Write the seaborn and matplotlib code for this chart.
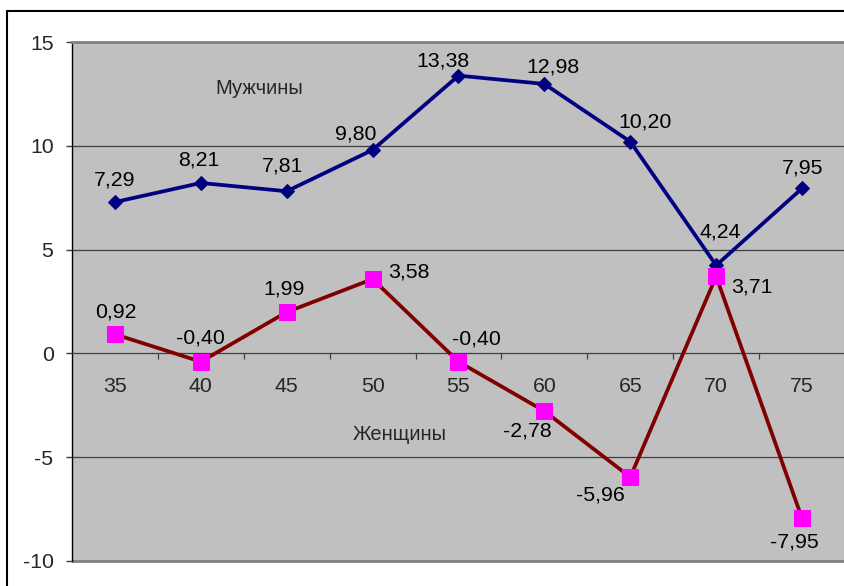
import numpy as np
import pandas as pd
import matplotlib
matplotlib.use("Agg")
import matplotlib.pyplot as plt
import seaborn as sns
from matplotlib.lines import Line2D

# Change by age group (men and women)
ages = [35, 40, 45, 50, 55, 60, 65, 70, 75]
men = [7.29, 8.21, 7.81, 9.80, 13.38, 12.98, 10.20, 4.24, 7.95]
women = [0.92, -0.40, 1.99, 3.58, -0.40, -2.78, -5.96, 3.71, -7.95]
men_label = "Мужчины"
women_label = "Женщины"
y_ticks = [-10, -5, 0, 5, 10, 15]

# value label offsets, pixels (dx, dy) from the marker to the centre of the digits
men_offsets = [(0, 24), (-2, 25), (-4, 27), (-17, 18), (-16, 17), (9, 19), (15, 22), (4, 35), (1, 22)]
women_offsets = [(1, 24), (0, 26), (-3, 25), (36, 9.5), (18, 25), (-17, -18), (-30, -16), (36, -9), (-8, -21)]

sns.set_style("white")
plt.rcParams["font.family"] = ["Liberation Sans", "DejaVu Sans"]

FS = 15.3
EM_PX = FS * 100 / 72
DIGIT_MID = 0.358 * EM_PX  # digit centre above baseline, pixels

fig = plt.figure(figsize=(8.45, 5.86), dpi=100)
ax = fig.add_axes([72 / 845, 25 / 586, 773 / 845, (561 - 42) / 586])
ax.set_facecolor("#C0C0C0")

df = pd.DataFrame({"pos": np.arange(len(ages)), "men": men, "women": women})

# horizontal gridlines
for y in y_ticks:
    if y in (10, 5, -5):
        ax.axhline(y, color="#404040", lw=0.9, zorder=1)
ax.axhline(-10, color="#808080", lw=2, zorder=1, clip_on=False)

sns.lineplot(data=df, x="pos", y="men", ax=ax, color="#000080", lw=2.7,
             marker="D", markersize=7.6, markerfacecolor="#000080",
             markeredgecolor="#000080", zorder=3)
sns.lineplot(data=df, x="pos", y="women", ax=ax, color="#800000", lw=2.7,
             marker="s", markersize=11.5, markerfacecolor="#FF00FF",
             markeredgecolor="#FF00FF", zorder=4)


def fmt(v):
    return f"{v:.2f}".replace(".", ",")


def value_labels(values, offsets):
    for i, v in enumerate(values):
        dx, dy = offsets[i]
        ax.annotate(fmt(v), (i, v), xytext=(dx, dy - DIGIT_MID),
                    textcoords="offset pixels", ha="center", va="baseline",
                    fontsize=FS, color="black", zorder=5)


value_labels(men, men_offsets)
value_labels(women, women_offsets)

ax.text(1.675, 12.48, men_label, ha="center", va="baseline", fontsize=14.5)
ax.text(3.32, -4.17, women_label, ha="center", va="baseline", fontsize=14.5)

ax.set_xlim(-0.5, len(ages) - 0.5)
ax.set_ylim(-10, 15)
ax.set_xlabel("")
ax.set_ylabel("")

# category axis runs along zero
ax.spines["bottom"].set_position(("data", 0))
ax.spines["bottom"].set_color("#404040")
ax.spines["bottom"].set_linewidth(0.9)
ax.spines["left"].set_color("black")
ax.spines["left"].set_linewidth(1.0)
ax.spines["top"].set_color("#808080")
ax.spines["top"].set_linewidth(2)
ax.spines["right"].set_color("#808080")
ax.spines["right"].set_linewidth(1.5)

ax.set_xticks(np.arange(len(ages)))
ax.set_xticklabels([str(a) for a in ages], fontsize=FS)
ax.set_xticks(np.arange(len(ages) - 1) + 0.5, minor=True)
ax.tick_params(axis="x", which="major", length=0, pad=17)
ax.tick_params(axis="x", which="minor", direction="out", length=4.3,
               width=0.9, color="#404040", bottom=True)

ax.set_yticks(y_ticks)
ax.set_yticklabels([str(t) for t in y_ticks], fontsize=FS)
ax.tick_params(axis="y", which="major", direction="out", length=4.3,
               width=1, color="#404040", pad=9, left=True)

# outer chart frame
fx = 7 / 845
fy = 1 - 11 / 586
fig.add_artist(Line2D([fx, fx], [0, fy], transform=fig.transFigure, color="black", lw=1.5))
fig.add_artist(Line2D([fx, 1], [fy, fy], transform=fig.transFigure, color="black", lw=1.5))

fig.savefig("out.png", dpi=100)
